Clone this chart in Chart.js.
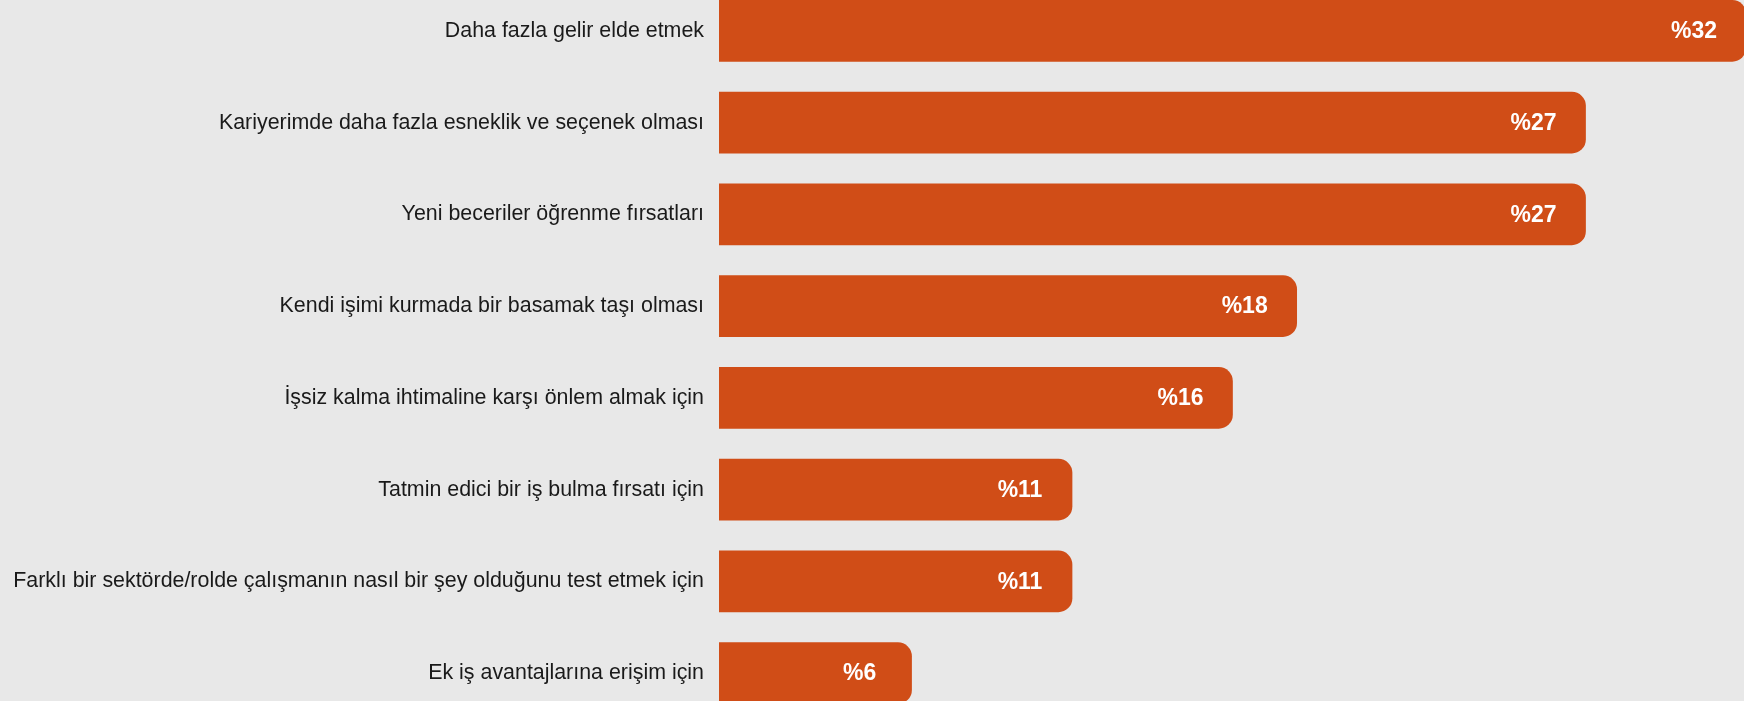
<!DOCTYPE html>
<html lang="tr">
<head>
<meta charset="utf-8">
<title>Ek iş nedenleri</title>
<script src="https://cdn.jsdelivr.net/npm/chart.js@4"></script>
<style>
  html, body { margin: 0; padding: 0; background: #e8e8e8; overflow: hidden; }
  body { width: 1744px; height: 701px; position: relative; }
  #chart { position: absolute; left: 0; top: -15px; }
</style>
</head>
<body>
<canvas id="chart" width="1746" height="734"></canvas>
<script>
const reasons = [
  'Daha fazla gelir elde etmek',
  'Kariyerimde daha fazla esneklik ve seçenek olması',
  'Yeni beceriler öğrenme fırsatları',
  'Kendi işimi kurmada bir basamak taşı olması',
  'İşsiz kalma ihtimaline karşı önlem almak için',
  'Tatmin edici bir iş bulma fırsatı için',
  'Farklı bir sektörde/rolde çalışmanın nasıl bir şey olduğunu test etmek için',
  'Ek iş avantajlarına erişim için'
];
const shares = [32, 27, 27, 18, 16, 11, 11, 6];

const barColor = '#d04d17';
const fontFamily = '"Liberation Sans", Arial, Helvetica, sans-serif';

// white "%NN" text sitting near the end of each bar
const valueLabels = {
  id: 'valueLabels',
  afterDatasetsDraw(chart) {
    const ctx = chart.ctx;
    const meta = chart.getDatasetMeta(0);
    ctx.save();
    ctx.fillStyle = '#ffffff';
    ctx.font = 'bold 23px ' + fontFamily;
    ctx.textAlign = 'center';
    ctx.textBaseline = 'middle';
    meta.data.forEach(function (bar, i) {
      ctx.fillText('%' + shares[i], bar.x - 52, bar.y + 1);
    });
    ctx.restore();
  }
};

const ctx = document.getElementById('chart').getContext('2d');
new Chart(ctx, {
  type: 'bar',
  data: {
    labels: reasons,
    datasets: [{
      data: shares,
      backgroundColor: barColor,
      borderWidth: 0,
      borderSkipped: 'start',
      borderRadius: { topRight: 14, bottomRight: 14, topLeft: 0, bottomLeft: 0 },
      barThickness: 61
    }]
  },
  options: {
    indexAxis: 'y',
    responsive: false,
    animation: false,
    layout: { padding: 0 },
    plugins: {
      legend: { display: false },
      tooltip: { enabled: false }
    },
    scales: {
      x: {
        display: false,
        min: 0,
        max: 32
      },
      y: {
        grid: { display: false },
        border: { display: false },
        ticks: {
          padding: 7,
          color: '#1a1a1a',
          font: { family: fontFamily, size: 21.4 }
        },
        afterFit(scale) {
          // fixed label column, no extra room above/below the rows
          scale.width = 719;
          scale.paddingTop = 0;
          scale.paddingBottom = 0;
        }
      }
    }
  },
  plugins: [valueLabels]
});
</script>
</body>
</html>
